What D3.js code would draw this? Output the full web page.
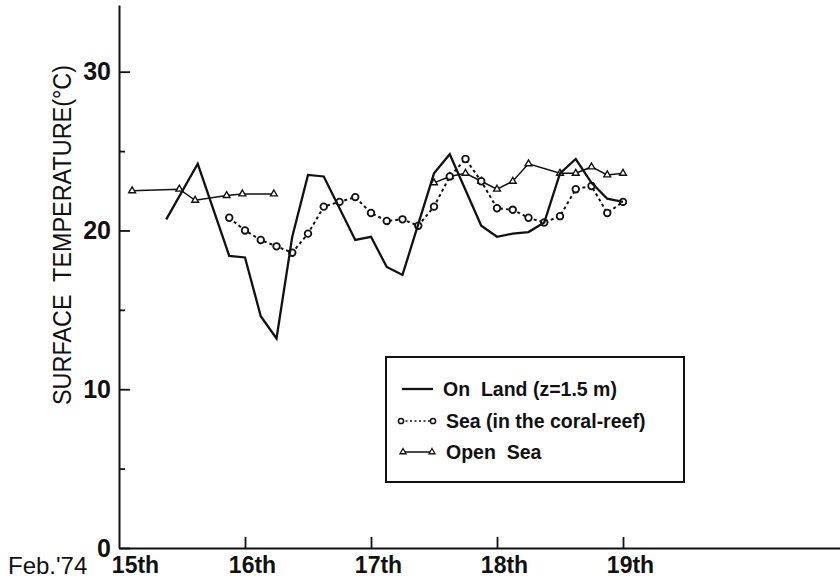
<!DOCTYPE html>
<html>
<head>
<meta charset="utf-8">
<script src="https://cdn.jsdelivr.net/npm/d3@7"></script>
<style>
  body { margin: 0; background: #fff; }
  text { font-family: "Liberation Sans", Arial, sans-serif; fill: #111; }
</style>
</head>
<body>
<div id="chart"></div>
<script>
/// Hours counted from Feb. 15th 00:00, temperatures in degrees C
var landHours = [9, 15, 21, 24, 27, 30, 33, 36, 39, 45, 48, 51, 54, 60, 63, 69, 72, 75, 78, 81, 84, 87, 90, 93, 96];
var landTemps = [20.7, 24.2, 18.4, 18.3, 14.6, 13.2, 19.6, 23.5, 23.4, 19.4, 19.6, 17.7, 17.2, 23.6, 24.8, 20.3, 19.6, 19.8, 19.9, 20.5, 23.6, 24.5, 23.0, 22.0, 21.8];

var reefHours = [21, 24, 27, 30, 33, 36, 39, 42, 45, 48, 51, 54, 57, 60, 63, 66, 69, 72, 75, 78, 81, 84, 87, 90, 93, 96];
var reefTemps = [20.8, 20.0, 19.4, 19.0, 18.6, 19.8, 21.5, 21.8, 22.1, 21.1, 20.6, 20.7, 20.3, 21.5, 23.4, 24.5, 23.1, 21.4, 21.3, 20.8, 20.5, 20.9, 22.6, 22.8, 21.1, 21.8];

/// The open sea record has a gap, so it is kept as two pieces
var openHoursA = [2.5, 11.5, 14.5, 20.5, 23.5, 29.5];
var openTempsA = [22.5, 22.6, 21.9, 22.2, 22.3, 22.3];
var openHoursB = [60, 63, 66, 69, 72, 75, 78, 84, 87, 90, 93, 96];
var openTempsB = [23.0, 23.4, 23.6, 23.1, 22.6, 23.1, 24.2, 23.6, 23.6, 24.0, 23.5, 23.6];

var dayTicks = [0, 24, 48, 72, 96];
var dayLabels = ["15th", "16th", "17th", "18th", "19th"];
var tempTicks = [0, 10, 20, 30];
var tempMinorTicks = [5, 15, 25];
var legendLabels = ["On  Land (z=1.5 m)", "Sea (in the coral-reef)", "Open  Sea"];

/// SVG size and margins
var svgWidth = 840;
var svgHeight = 579;
var margin = { top: 5, right: 0, bottom: 31, left: 119 };
var width = svgWidth - margin.left - margin.right;
var height = svgHeight - margin.top - margin.bottom;

var svg = d3.select("#chart")
  .append("svg")
  .attr("width", svgWidth)
  .attr("height", svgHeight);

var chartGroup = svg.append("g")
  .attr("transform", `translate(${margin.left}, ${margin.top})`);

/// 5.25 px per hour, axis runs off to the right edge
var xScale = d3.scaleLinear()
  .domain([0, width / 5.25])
  .range([0, width]);

var yScale = d3.scaleLinear()
  .domain([0, 34.2])
  .range([height, 0]);

var zip = (hs, ts) => hs.map((h, i) => ({ h: h, t: ts[i] }));
var land = zip(landHours, landTemps);
var reef = zip(reefHours, reefTemps);
var openA = zip(openHoursA, openTempsA);
var openB = zip(openHoursB, openTempsB);

var line = d3.line()
  .x(d => xScale(d.h))
  .y(d => yScale(d.t));

/// Axes: ticks point into the plot
var leftAxis = d3.axisLeft(yScale)
  .tickValues(tempTicks)
  .tickSizeInner(-11)
  .tickSizeOuter(0)
  .tickPadding(8);

var leftMinor = d3.axisLeft(yScale)
  .tickValues(tempMinorTicks)
  .tickSizeInner(-6)
  .tickSizeOuter(0)
  .tickFormat("");

var bottomAxis = d3.axisBottom(xScale)
  .tickValues(dayTicks)
  .tickSizeInner(-11)
  .tickSizeOuter(0)
  .tickPadding(9)
  .tickFormat((d, i) => dayLabels[i]);

var yAxisG = chartGroup.append("g").call(leftAxis);
chartGroup.append("g").call(leftMinor).select(".domain").remove();
var xAxisG = chartGroup.append("g")
  .attr("transform", `translate(0, ${height})`)
  .call(bottomAxis);

[yAxisG, xAxisG].forEach(g => {
  g.select(".domain").attr("stroke", "#111").attr("stroke-width", 2);
  g.selectAll("text").attr("fill", "#111").style("font-family", "Liberation Sans, Arial, sans-serif");
});
chartGroup.selectAll(".tick line").attr("stroke", "#111").attr("stroke-width", 1.8);

yAxisG.selectAll("text").attr("font-size", 25).attr("font-weight", "bold");
xAxisG.selectAll("text")
  .attr("font-size", 23)
  .attr("font-weight", "bold")
  .attr("x", (d, i) => i === 0 ? 16 : 7);
xAxisG.select(".tick line").remove();

svg.append("text")
  .attr("x", 8)
  .attr("y", 574)
  .attr("font-size", 24)
  .text("Feb.'74");

/// Y axis title
chartGroup.append("text")
  .attr("transform", `translate(${62 - margin.left + 9}, ${235 - margin.top}) rotate(-90)`)
  .attr("text-anchor", "middle")
  .attr("font-size", 26)
  .attr("textLength", 340)
  .attr("lengthAdjust", "spacingAndGlyphs")
  .style("white-space", "pre")
  .text("SURFACE  TEMPERATURE(°C)");

/// Open sea: thin solid line with open triangles
[openA, openB].forEach(seg => {
  chartGroup.append("path")
    .datum(seg)
    .attr("d", line)
    .attr("fill", "none")
    .attr("stroke", "#111")
    .attr("stroke-width", 1.5);
});
var tri = d3.symbol().type(d3.symbolTriangle).size(20);
chartGroup.selectAll(".openMark")
  .data(openA.concat(openB))
  .enter()
  .append("path")
  .attr("class", "openMark")
  .attr("d", tri)
  .attr("transform", d => `translate(${xScale(d.h)}, ${yScale(d.t)})`)
  .attr("fill", "#fff")
  .attr("stroke", "#111")
  .attr("stroke-width", 1.4);

/// Coral-reef sea: dotted line with open circles
chartGroup.append("path")
  .datum(reef)
  .attr("d", line)
  .attr("fill", "none")
  .attr("stroke", "#111")
  .attr("stroke-width", 2)
  .attr("stroke-dasharray", "3,3");

chartGroup.selectAll(".reefMark")
  .data(reef)
  .enter()
  .append("circle")
  .attr("class", "reefMark")
  .attr("cx", d => xScale(d.h))
  .attr("cy", d => yScale(d.t))
  .attr("r", 3.3)
  .attr("fill", "#fff")
  .attr("stroke", "#111")
  .attr("stroke-width", 1.8);

/// Land: heavy solid line, drawn last
chartGroup.append("path")
  .datum(land)
  .attr("d", line)
  .attr("fill", "none")
  .attr("stroke", "#111")
  .attr("stroke-width", 2.3)
  .attr("stroke-linejoin", "miter");

/// Legend box
var legend = svg.append("g");
legend.append("rect")
  .attr("x", 386)
  .attr("y", 357)
  .attr("width", 298)
  .attr("height", 125)
  .attr("fill", "#fff")
  .attr("stroke", "#111")
  .attr("stroke-width", 2);

var rowY = [389, 421, 452];

legend.append("line")
  .attr("x1", 402).attr("x2", 433)
  .attr("y1", rowY[0]).attr("y2", rowY[0])
  .attr("stroke", "#111").attr("stroke-width", 2.3);

legend.append("line")
  .attr("x1", 401).attr("x2", 433)
  .attr("y1", rowY[1]).attr("y2", rowY[1])
  .attr("stroke", "#111").attr("stroke-width", 1.5)
  .attr("stroke-dasharray", "2,2.5");
[401, 433].forEach(cx => {
  legend.append("circle")
    .attr("cx", cx).attr("cy", rowY[1]).attr("r", 2.6)
    .attr("fill", "#fff").attr("stroke", "#111").attr("stroke-width", 1.5);
});

legend.append("line")
  .attr("x1", 403).attr("x2", 432)
  .attr("y1", rowY[2]).attr("y2", rowY[2])
  .attr("stroke", "#111").attr("stroke-width", 1.5);
[403, 432].forEach(cx => {
  legend.append("path")
    .attr("d", d3.symbol().type(d3.symbolTriangle).size(16))
    .attr("transform", `translate(${cx}, ${rowY[2]})`)
    .attr("fill", "#fff").attr("stroke", "#111").attr("stroke-width", 1.3);
});

legend.selectAll(".legendText")
  .data(legendLabels)
  .enter()
  .append("text")
  .attr("class", "legendText")
  .attr("x", (d, i) => i === 0 ? 443 : 446)
  .attr("y", (d, i) => rowY[i] + 7)
  .attr("font-size", 19.5)
  .attr("font-weight", "bold")
  .style("white-space", "pre")
  .text(d => d);
</script>
</body>
</html>
